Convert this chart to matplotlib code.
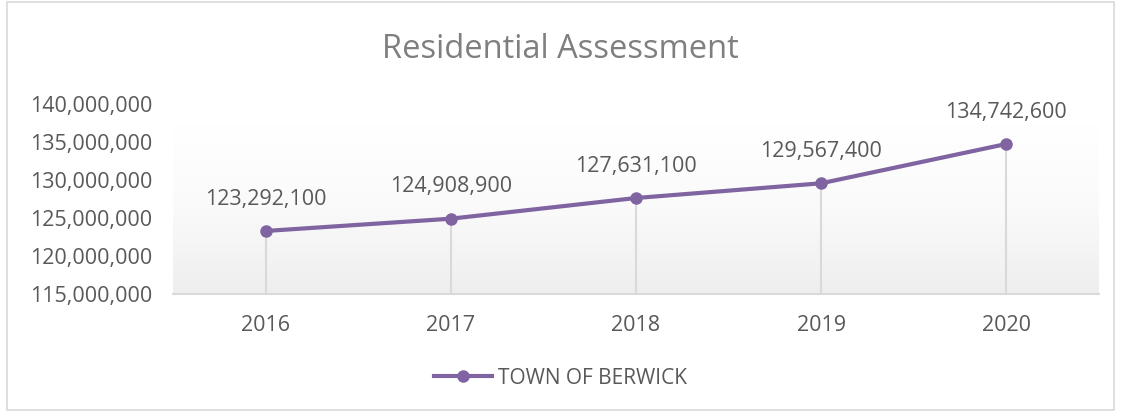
import numpy as np
import matplotlib
matplotlib.use("Agg")
from matplotlib import pyplot as plt
from matplotlib.ticker import FuncFormatter
from matplotlib.patches import Rectangle
from matplotlib.colors import LinearSegmentedColormap

years = ["2016", "2017", "2018", "2019", "2020"]
values = [123292100, 124908900, 127631100, 129567400, 134742600]
y_ticks = [115000000, 120000000, 125000000, 130000000, 135000000, 140000000]
series_name = "TOWN OF BERWICK"
title = "Residential Assessment"

purple = "#8064A2"
text_grey = "#595959"

plt.rcParams['font.family'] = ['Open Sans', 'DejaVu Sans']


def comma(x, pos):
    return '{:,.0f}'.format(x)


def main():
    fig = plt.figure(figsize=(11.21, 4.12), dpi=100)
    fig.patch.set_facecolor('white')
    # chart border
    fig.patches.append(Rectangle((0.006, 0.005), 0.988, 0.99, transform=fig.transFigure,
                                 fill=False, edgecolor='#d9d9d9', linewidth=1.2))

    ax = fig.add_axes([173 / 1121, 1 - 294 / 412, (1099 - 173) / 1121, (294 - 104) / 412])
    x = np.arange(len(years))

    # soft vertical gradient behind the plot, white on top, light grey at the base
    grad = np.linspace(0, 1, 256).reshape(-1, 1)
    cmap = LinearSegmentedColormap.from_list('fade', ['#ffffff', '#fafafa', '#eeeeee'])
    ax.imshow(grad, extent=(-0.5, 4.5, 115000000, 137200000), aspect='auto',
              cmap=cmap, origin='upper', zorder=0, vmin=0, vmax=1)

    ax.vlines(x, 115000000, values, color='#d9d9d9', linewidth=1.5, zorder=1)
    ax.plot(x, values, color=purple, linewidth=3, marker='o', markersize=8,
            label=series_name, zorder=3)
    for xi, v in zip(x, values):
        ax.annotate('{:,}'.format(v), (xi, v), xytext=(0, 23), textcoords='offset points',
                    ha='center', va='center', fontsize=15.5, color=text_grey)

    ax.set_xlim(-0.5, 4.5)
    ax.set_ylim(115000000, 140000000)
    ax.set_yticks(y_ticks)
    ax.yaxis.set_major_formatter(FuncFormatter(comma))
    ax.set_xticks(x)
    ax.set_xticklabels(years)
    ax.tick_params(axis='both', length=0, labelsize=15.5, labelcolor=text_grey)
    ax.tick_params(axis='x', pad=15)
    ax.tick_params(axis='y', pad=15)
    for side in ['top', 'right', 'left']:
        ax.spines[side].set_visible(False)
    ax.spines['bottom'].set_color('#d9d9d9')
    ax.spines['bottom'].set_linewidth(1.5)
    ax.set_facecolor('none')

    fig.text(0.5, 1 - 50 / 412, title, ha='center', va='center', fontsize=23.5,
             color='#7f7f7f')

    leg = fig.legend(loc='center', bbox_to_anchor=(0.5, 1 - 378 / 412), frameon=False,
                     fontsize=15, handlelength=2.8, handletextpad=0.3)
    for t in leg.get_texts():
        t.set_color(text_grey)

    fig.savefig('out.png', dpi=100)


if __name__ == "__main__":
    main()
